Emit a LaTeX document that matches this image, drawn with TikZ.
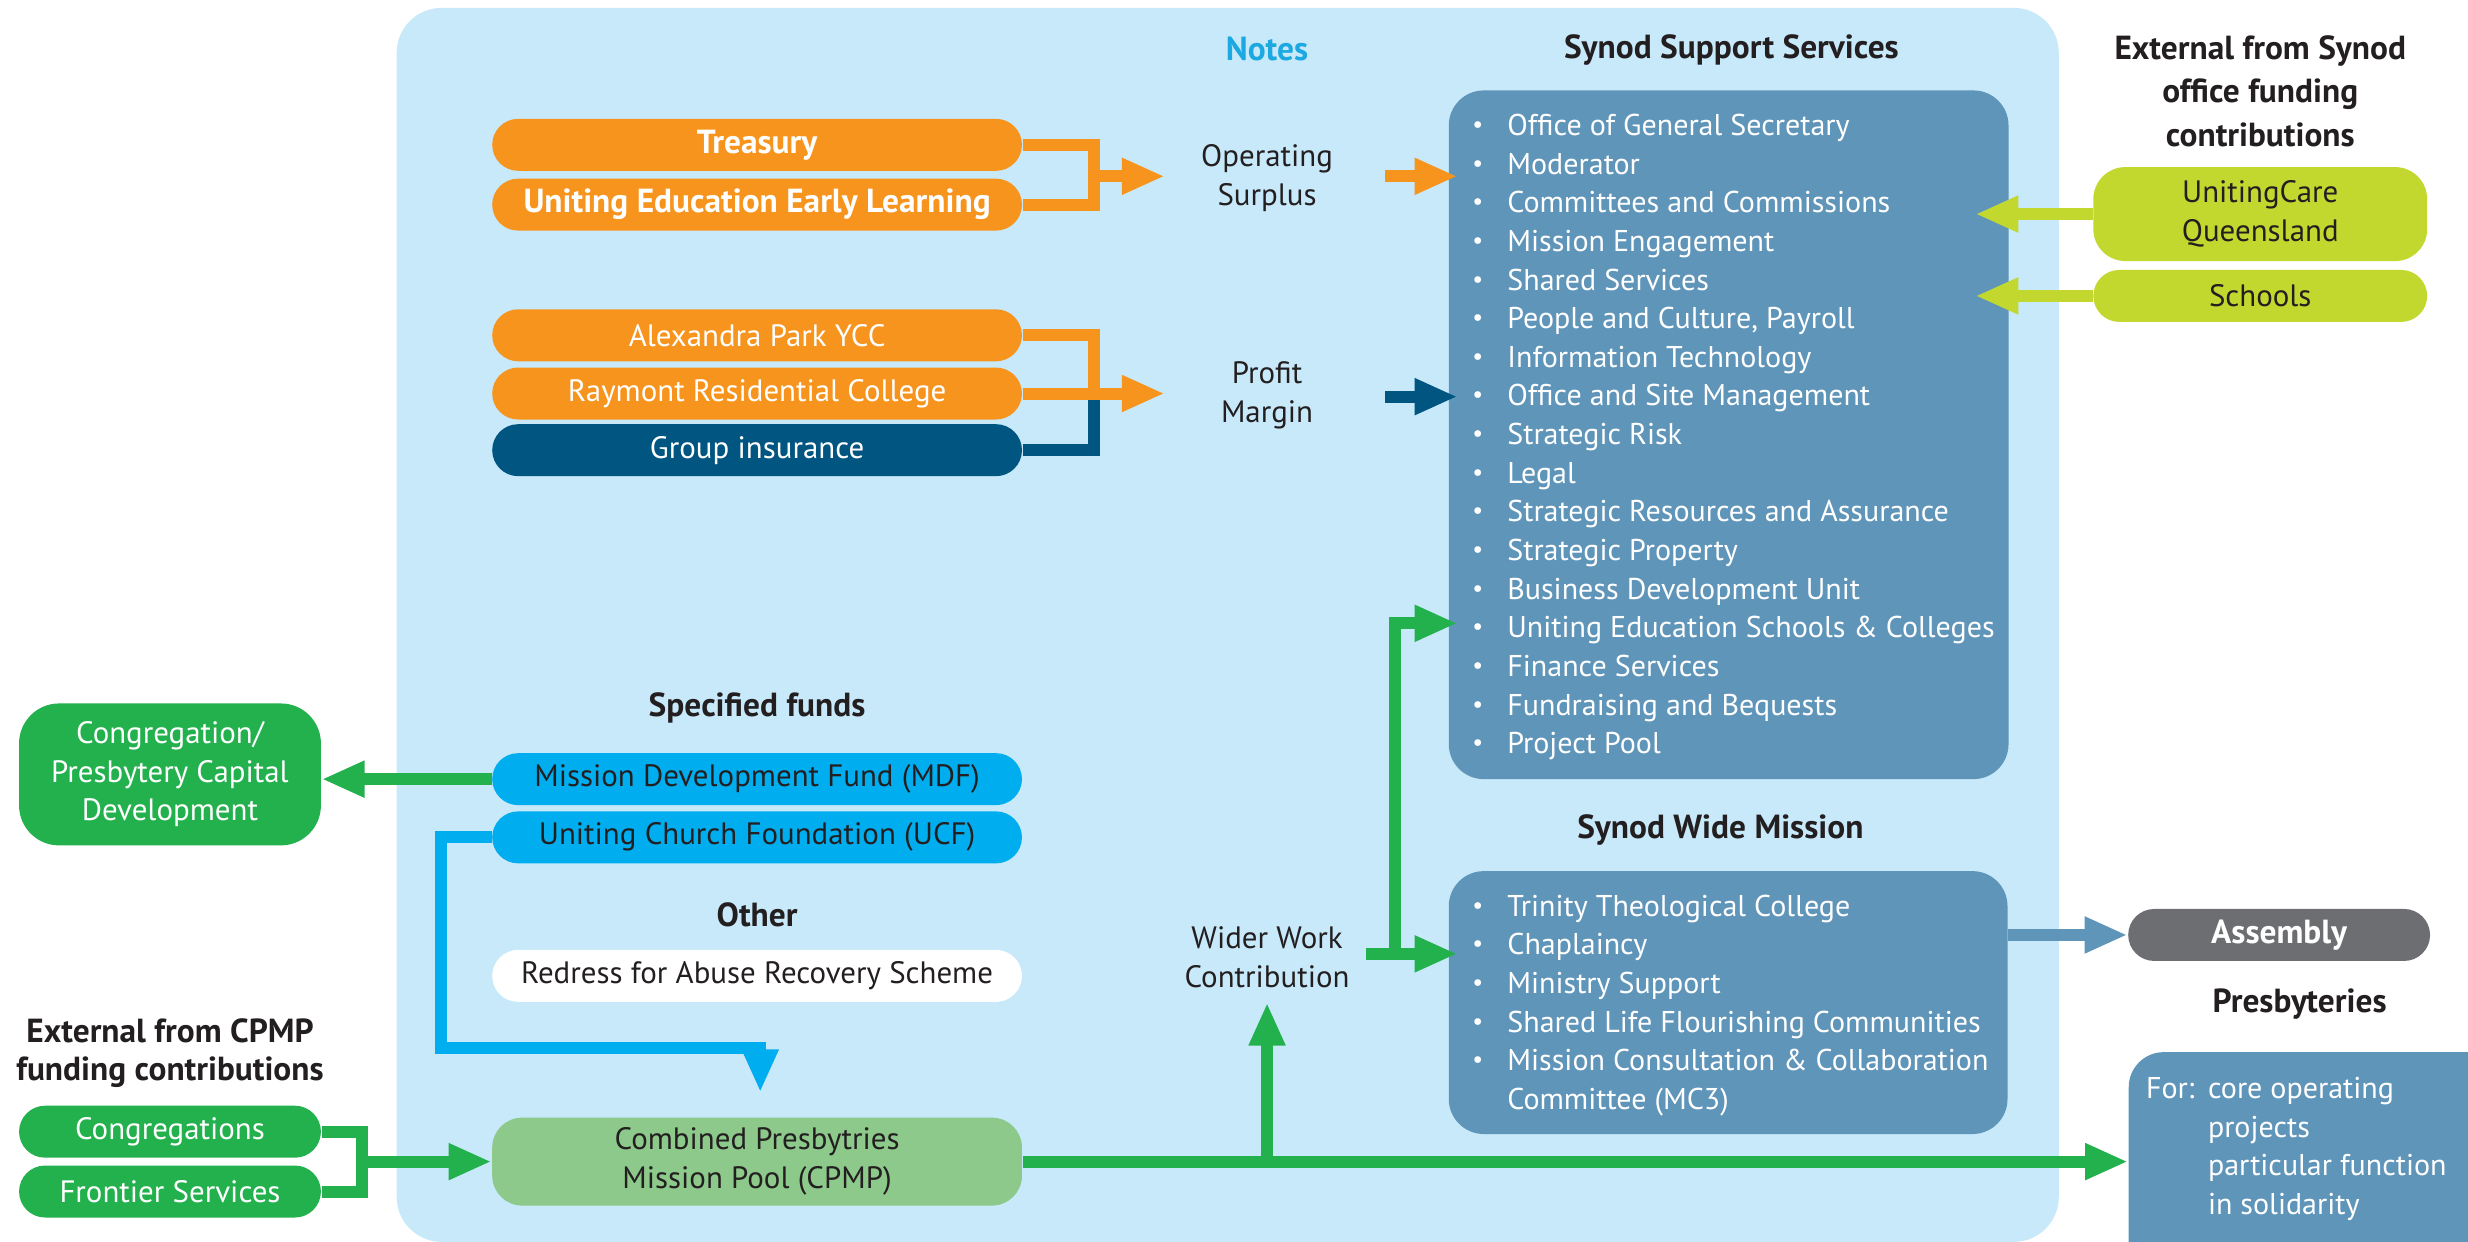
\documentclass[tikz,border=0pt]{standalone}
\usepackage{fontspec}
\usepackage{graphicx}
\setmainfont{PT Sans}
\usetikzlibrary{arrows.meta}

\definecolor{bgblue}{HTML}{C7E9FA}
\definecolor{orangeC}{HTML}{F7941D}
\definecolor{navyC}{HTML}{005581}
\definecolor{steelC}{HTML}{6095BA}
\definecolor{cyanC}{HTML}{00AEEF}
\definecolor{greenC}{HTML}{22B14C}
\definecolor{paleC}{HTML}{8CC98A}
\definecolor{limeC}{HTML}{C2D82F}
\definecolor{greyC}{HTML}{6D6E71}
\definecolor{notesC}{HTML}{1CA9E2}
\definecolor{inkC}{HTML}{231F20}

\newcommand{\bul}{\makebox[0.35cm][l]{\raisebox{0.2ex}{\scalebox{0.8}{\textbullet}}}}
\newcommand{\forcol}[1]{\makebox[0.62cm][l]{#1}}
\newcommand{\bigbold}{\fontsize{9.5}{11}\selectfont\bfseries}

\begin{document}
\fontsize{8.8}{11}\selectfont
\begin{tikzpicture}[x=0.01574cm,y=-0.01574cm,>={Triangle[length=0.43cm,width=0.34cm]},
    flow/.style={line width=0.12cm},
    pill/.style={rounded corners=0.26cm,minimum width=5.3cm,minimum height=0.52cm,inner sep=0pt},
    gpill/.style={pill,minimum width=3.02cm,fill=greenC,text=white},
    panel/.style={fill=steelC,rounded corners=0.35cm,inner sep=0pt,anchor=north west},
    head/.style={font=\bigbold,text=inkC,align=center},
    plain/.style={text=inkC,align=center},
    list/.style={anchor=north west,inner sep=0pt,align=left,text=white,font=\fontsize{8.55}{11}\selectfont}]
                \useasboundingbox (0,0) rectangle (1568,789);
                \fill[bgblue,rounded corners=0.45cm] (252,5) rectangle (1308,789);
                % panels
                \node[panel,minimum width=5.6cm,minimum height=6.89cm] (sss) at (920,57) {};
                \node[panel,minimum width=5.59cm,minimum height=2.63cm] (swm) at (920,553) {};
                \node[panel,minimum width=3.9cm,minimum height=2.4cm] (presb) at (1352,668) {};
                % headings
                \node[head,text=notesC] (notes) at (805,31) {Notes};
                \node[head] (hsss) at (1100,32) {Synod Support Services};
                \node[head] (hext) at (1436,58) {External from Synod\\[1.3pt]office funding\\[1.3pt]contributions};
                \node[head] (hspec) at (481,450) {Specified funds};
                \node[head] (hother) at (481,581) {Other};
                \node[head] (hcpmp) at (108,669) {External from CPMP\\funding contributions};
                \node[head] (hswm) at (1093,527) {Synod Wide Mission};
                \node[head] (hpresb) at (1461,638) {Presbyteries};
                \node[plain] (opsurp) at (805,113) {Operating\\Surplus};
                \node[plain] (profit) at (805,251) {Profit\\Margin};
                \node[plain] (wider) at (805,608) {Wider Work\\Contribution};
                % boxes
                \node[pill,fill=orangeC,text=white,font=\bigbold] (treas) at (481,92) {Treasury};
                \node[pill,fill=orangeC,text=white,font=\bigbold] (ueel) at (481,130) {Uniting Education Early Learning};
                \node[pill,fill=orangeC,text=white] (apycc) at (481,213) {Alexandra Park YCC};
                \node[pill,fill=orangeC,text=white] (rrc) at (481,250) {Raymont Residential College};
                \node[pill,fill=navyC,text=white] (grpins) at (481,286) {Group insurance};
                \node[pill,fill=cyanC,text=inkC] (mdf) at (481,495) {Mission Development Fund (MDF)};
                \node[pill,fill=cyanC,text=inkC] (ucf) at (481,532) {Uniting Church Foundation (UCF)};
                \node[pill,fill=white,text=inkC] (redress) at (481,620) {Redress for Abuse Recovery Scheme};
                \node[pill,fill=paleC,text=inkC,minimum height=0.88cm,rounded corners=0.3cm,align=center] (cpmp) at (481,738) {Combined Presbytries\\Mission Pool (CPMP)};
                \node[gpill,minimum height=1.42cm,rounded corners=0.4cm,align=center] (ccd) at (108,492) {Congregation/\\Presbytery Capital\\Development};
                \node[gpill] (cong) at (108,719) {Congregations};
                \node[gpill] (frontier) at (108,757) {Frontier Services};
                \node[pill,fill=limeC,text=inkC,minimum width=3.34cm,minimum height=0.94cm,rounded corners=0.32cm,align=center] (ucq) at (1436,136) {UnitingCare\\Queensland};
                \node[pill,fill=limeC,text=inkC,minimum width=3.34cm] (schools) at (1436,188) {Schools};
                \node[pill,fill=greyC,text=white,font=\bigbold,minimum width=3.02cm] (assembly) at (1448,594) {Assembly};
                % lists
                \node[list] (ssslist) at (935,72) {\bul Office of General Secretary\\\bul Moderator\\\bul Committees and Commissions\\\bul Mission Engagement\\\bul Shared Services\\\bul People and Culture, Payroll\\\bul Information Technology\\\bul Office and Site Management\\\bul Strategic Risk\\\bul Legal\\\bul Strategic Resources and Assurance\\\bul Strategic Property\\\bul Business Development Unit\\\bul Uniting Education Schools \& Colleges\\\bul Finance Services\\\bul Fundraising and Bequests\\\bul Project Pool};
                \node[list] (swmlist) at (935,568) {\bul Trinity Theological College\\\bul Chaplaincy\\\bul Ministry Support\\\bul Shared Life Flourishing Communities\\\bul Mission Consultation \& Collaboration\\\hspace*{0.35cm}Committee (MC3)};
                \node[list] (presblist) at (1363,684) {\forcol{For:}core operating\\\forcol{}projects\\\forcol{}particular function\\\forcol{}in solidarity};
                % connectors
                \coordinate (osj) at (695,112);
                \coordinate (ost) at (740,112);
                \coordinate (osa) at (880,112);
                \coordinate (osb) at (926,112);
                \draw[flow,orangeC] (treas.east) -| (osj) |- (ueel.east);
                \draw[flow,orangeC,->] (osj) -- (ost);
                \draw[flow,orangeC,->] (osa) -- (osb);
                \coordinate (pmj) at (695,250);
                \coordinate (pmt) at (740,250);
                \coordinate (pma) at (880,252);
                \coordinate (pmb) at (926,252);
                \draw[flow,navyC] (grpins.east) -| (pmj);
                \draw[flow,orangeC] (apycc.east) -| (pmj);
                \draw[flow,orangeC,->] (rrc.east) -- (pmt);
                \draw[flow,navyC,->] (pma) -- (pmb);
                \coordinate (ucqt) at (1255,136);
                \coordinate (scht) at (1255,188);
                \draw[flow,limeC,->] (ucq.west) -- (ucqt);
                \draw[flow,limeC,->] (schools.west) -- (scht);
                \draw[flow,greenC,->] (mdf.west) -- (mdf.west -| ccd.east);
                \coordinate (ucfc) at (280,666);
                \coordinate (ucft) at (483,694);
                \draw[flow,cyanC,->] (ucf.west) -| (ucfc) -| (ucft);
                \coordinate (cpj) at (230,738);
                \draw[flow,greenC] (cong.east) -| (cpj) |- (frontier.east);
                \draw[flow,greenC,->] (cpj) -- (cpmp.west);
                \draw[flow,greenC,->] (cpmp.east) -- (cpmp.east -| presb.west);
                \coordinate (wwj) at (805,738);
                \coordinate (wwt) at (805,637);
                \draw[flow,greenC,->] (wwj) -- (wwt);
                \coordinate (wwa) at (868,606);
                \coordinate (wwk) at (886,606);
                \coordinate (wwb) at (926,606);
                \coordinate (wwu) at (926,396);
                \draw[flow,greenC,->] (wwa) -- (wwb);
                \draw[flow,greenC,->] (wwk) |- (wwu);
                \draw[flow,steelC,->] (swm.east |- assembly.west) -- (assembly.west);
            \end{tikzpicture}
\end{document}
